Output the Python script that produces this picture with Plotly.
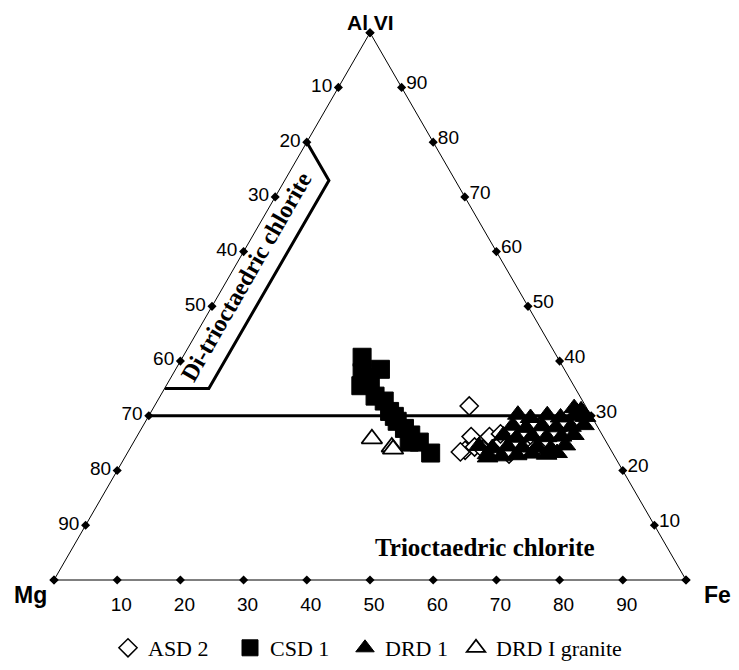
import plotly.graph_objects as go

# ---------------- data (percent: Al VI, Mg, Fe) ----------------
asd2_al = [31.8, 26.2, 26.2, 26.7, 23.7, 24.3, 23.4, 23.0, 25.2, 23.9, 23.9, 23.4, 24.3]
asd2_fe = [49.8, 52.9, 55.8, 57.3, 53.2, 54.4, 58.0, 60.5, 60.2, 62.8, 55.9, 52.6, 64.2]
asd2_mg = [18.4, 20.9, 18.0, 16.0, 23.1, 21.3, 18.6, 16.5, 14.6, 13.3, 20.2, 24.0, 11.5]

csd1_al = [40.7, 37.9, 35.5, 38.5, 35.9, 33.6, 32.7, 30.8, 29.0, 27.7, 26.5, 25.2, 23.2, 37.0, 29.9, 25.2]
csd1_fe = [28.4, 29.8, 30.8, 32.4, 32.1, 34.0, 35.9, 37.7, 39.8, 41.6, 43.2, 45.2, 48.0, 31.2, 38.9, 43.6]
csd1_mg = [30.9, 32.3, 33.7, 29.1, 32.0, 32.4, 31.4, 31.5, 31.2, 30.7, 30.3, 29.6, 28.8, 31.8, 31.2, 31.2]

drd1_al = [31.4, 31.0, 30.2, 29.6, 30.1, 29.7, 30.0, 29.8, 28.2, 27.8, 28.1, 27.9, 28.0, 28.3,
           26.4, 26.0, 26.3, 26.1, 26.2, 26.5, 24.5, 24.1, 24.4, 24.2, 24.3, 24.0, 24.6,
           23.0, 22.8, 23.1, 22.9, 23.2, 22.4, 22.6]
drd1_fe = [66.6, 67.9, 58.3, 60.6, 63.0, 65.3, 67.3, 69.2, 58.5, 60.8, 63.2, 65.5, 67.8, 69.7,
           57.9, 60.2, 62.5, 64.9, 67.2, 69.0, 55.0, 57.3, 59.6, 62.0, 64.3, 66.6, 68.6,
           57.1, 61.8, 64.1, 66.5, 68.0, 57.4, 59.5]
drd1_mg = [2.0, 1.1, 11.5, 9.8, 6.9, 5.0, 2.7, 1.0, 13.3, 11.4, 8.7, 6.6, 4.2, 2.0,
           15.7, 13.8, 11.2, 9.0, 6.6, 4.5, 20.5, 18.6, 16.0, 13.8, 11.4, 9.4, 6.8,
           19.9, 15.4, 12.8, 10.6, 8.8, 20.2, 17.9]

drdg_al = [25.8, 24.3, 23.9]
drdg_fe = [37.4, 41.3, 41.7]
drdg_mg = [36.8, 34.4, 34.4]

# field boundaries
di_al = [80, 73, 35, 35]
di_fe = [0, 7, 7, 0]
di_mg = [20, 20, 58, 65]
split_al = [30, 30]
split_fe = [0, 70]
split_mg = [70, 0]

tick_vals = [10, 20, 30, 40, 50, 60, 70, 80, 90]
tick_text = ['90', '80', '70', '60', '50', '40', '30', '20', '10']
edge_vals = [0, 10, 20, 30, 40, 50, 60, 70, 80, 90, 100]

# ---------------- figure ----------------
W, H = 723, 654          # page body keeps an 8 px margin inside the 739x670 window
OFF = 8


def px(x, y):
    """window pixel -> paper fraction"""
    return (x - OFF) / W, 1 - (y - OFF) / H


fig = go.Figure()

# tick dots along the three edges
dot_a = edge_vals + [0] * len(edge_vals) + edge_vals
dot_b = [100 - v for v in edge_vals] + [100 - v for v in edge_vals] + [0] * len(edge_vals)
dot_c = [0] * len(edge_vals) + edge_vals + [100 - v for v in edge_vals]
fig.add_trace(go.Scatterternary(a=dot_a, b=dot_b, c=dot_c, mode='markers', showlegend=False,
                                hoverinfo='skip', cliponaxis=False,
                                marker=dict(symbol='diamond', size=7, color='black')))

fig.add_trace(go.Scatterternary(a=di_al, b=di_mg, c=di_fe, mode='lines', showlegend=False,
                                cliponaxis=False, line=dict(color='black', width=3)))
fig.add_trace(go.Scatterternary(a=split_al, b=split_mg, c=split_fe, mode='lines', showlegend=False,
                                cliponaxis=False, line=dict(color='black', width=3)))

fig.add_trace(go.Scatterternary(a=asd2_al, b=asd2_mg, c=asd2_fe, mode='markers', name='ASD 2',
                                cliponaxis=False, legendwidth=77,
                                marker=dict(symbol='diamond', size=14, color='white',
                                            line=dict(color='black', width=1.5))))
fig.add_trace(go.Scatterternary(a=csd1_al, b=csd1_mg, c=csd1_fe, mode='markers', name='CSD 1',
                                cliponaxis=False, legendwidth=70,
                                marker=dict(symbol='square', size=18, color='black',
                                            line=dict(color='black', width=1))))
fig.add_trace(go.Scatterternary(a=drd1_al, b=drd1_mg, c=drd1_fe, mode='markers', name='DRD 1',
                                cliponaxis=False, legendwidth=66,
                                marker=dict(symbol='triangle-up', size=18, color='black',
                                            line=dict(color='black', width=1))))
fig.add_trace(go.Scatterternary(a=drdg_al, b=drdg_mg, c=drdg_fe, mode='markers', name='DRD I granite',
                                cliponaxis=False, legendwidth=145,
                                marker=dict(symbol='triangle-up', size=18, color='white',
                                            line=dict(color='black', width=1.8))))

tickfont = dict(family='Liberation Sans, Arial, sans-serif', size=19, color='black')
axis_common = dict(tickmode='array', tickvals=tick_vals, ticktext=tick_text, showgrid=False,
                   linecolor='black', linewidth=1, ticks='outside', tickcolor='rgba(0,0,0,0)',
                   tickfont=tickfont, title=dict(text=''), min=0)

title_font = dict(family='Liberation Sans, Arial', size=23, color='black')
serif_bold = dict(family='Liberation Serif, Times New Roman, serif', size=24, color='black')

# triangle: width 632 px, centred at window x=370, vertical centre at window y=306.35
tri_w = 632
cx, cy = px(370, 306.35)
xd = tri_w / W / 2
yd = 0.44


def ann(text, x, y, font, **kw):
    ax, ay = px(x, y)
    return dict(text=text, x=ax, y=ay, xref='paper', yref='paper', showarrow=False,
                xanchor='center', yanchor='middle', font=font, **kw)


lx, ly = px(108, 648)

fig.update_layout(
    width=W, height=H, autosize=False,
    margin=dict(l=0, r=0, t=0, b=0, autoexpand=False),
    paper_bgcolor='white', plot_bgcolor='white',
    ternary=dict(
        sum=100,
        domain=dict(x=[cx - xd, cx + xd], y=[cy - yd, cy + yd]),
        bgcolor='white',
        aaxis=dict(axis_common, ticklen=3),
        baxis=dict(axis_common, ticklen=8),
        caxis=dict(axis_common, ticklen=3),
    ),
    showlegend=True,
    legend=dict(orientation='h', x=lx, xanchor='left', y=ly, yanchor='middle',
                font=dict(family='Liberation Serif, Times New Roman, serif', size=22, color='black'),
                itemwidth=30, bgcolor='rgba(0,0,0,0)'),
    annotations=[
        ann('<b>Al VI</b>', 370, 22, dict(title_font, size=21)),
        ann('<b>Mg</b>', 30, 595, title_font),
        ann('<b>Fe</b>', 717, 595, title_font),
        ann('<b>Di-trioctaedric chlorite</b>', 246, 277, serif_bold, textangle=-60),
        ann('<b>Trioctaedric chlorite</b>', 485, 547, dict(serif_bold, size=25)),
    ],
)

fig.write_html('out.html')
